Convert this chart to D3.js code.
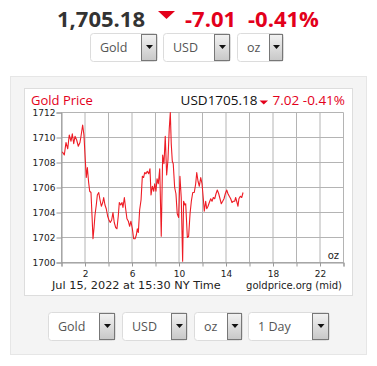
<!DOCTYPE html>
<html>
<head>
<meta charset="utf-8">
<style>
  body { margin: 0; background: #fff; }
  svg { display: block; }
</style>
</head>
<body>
<svg width="377" height="366"></svg>
<script src="https://d3js.org/d3.v7.min.js"></script>
<script>
// hours since midnight (NY time) and gold mid price, USD/oz
const hours = [0.07,0.24,0.38,0.53,0.66,0.81,0.92,1.04,1.15,1.29,1.43,1.57,1.66,1.80,1.91,2.03,2.11,2.20,2.31,2.40,
  2.51,2.60,2.68,2.77,2.85,2.96,3.05,3.17,3.28,3.39,3.51,3.59,3.70,3.81,3.93,4.04,4.15,4.27,4.38,4.49,
  4.61,4.72,4.83,4.92,5.04,5.15,5.23,5.35,5.46,5.57,5.69,5.80,5.91,6.03,6.14,6.26,6.37,6.45,6.54,6.65,
  6.77,6.88,6.99,7.08,7.19,7.30,7.42,7.53,7.62,7.73,7.85,7.93,8.04,8.13,8.24,8.36,8.49,8.61,8.72,8.83,
  8.95,9.06,9.17,9.26,9.34,9.43,9.51,9.63,9.74,9.85,9.97,10.08,10.19,10.31,10.39,10.50,10.57,10.71,10.82,10.94,
  11.05,11.17,11.30,11.42,11.51,11.62,11.73,11.85,11.96,12.07,12.15,12.27,12.36,12.47,12.58,12.70,12.81,12.92,13.04,13.15,
  13.26,13.38,13.49,13.60,13.72,13.83,13.94,14.06,14.17,14.28,14.40,14.51,14.62,14.74,14.82,14.91,15.02,15.10,15.22,15.34,15.45];
const prices = [1708.85,1708.6,1709.6,1709.1,1710.2,1709.7,1710.3,1709.5,1710.1,1709.8,1709.3,1709.6,1710.1,1711.0,1710.2,1708.1,1706.8,1707.6,1706.4,1705.7,
  1705.6,1703.7,1701.9,1702.8,1703.8,1704.6,1705.4,1705.6,1705.0,1704.5,1704.8,1705.2,1704.6,1704.3,1703.7,1703.4,1703.2,1703.4,1704.0,1703.2,
  1702.8,1702.7,1703.7,1704.8,1704.6,1704.8,1704.4,1705.2,1704.3,1703.5,1703.3,1702.9,1703.3,1702.7,1701.9,1701.9,1702.2,1702.7,1702.4,1704.2,
  1705.0,1706.9,1706.8,1707.2,1707.1,1707.3,1707.1,1707.5,1705.4,1706.1,1705.7,1706.3,1705.7,1706.7,1706.3,1707.5,1702.1,1708.6,1707.9,1710.1,
  1707.0,1708.2,1710.7,1712.0,1709.5,1708.1,1707.9,1706.0,1705.5,1703.9,1703.6,1706.9,1705.2,1700.1,1704.9,1704.6,1704.7,1702.0,1702.1,1703.9,
  1704.9,1705.6,1705.6,1706.3,1707.2,1706.5,1706.1,1706.8,1706.3,1705.1,1704.1,1704.9,1704.3,1704.5,1704.8,1705.1,1704.9,1705.2,1705.1,1705.5,
  1705.8,1705.5,1705.1,1704.7,1704.9,1705.1,1705.5,1705.8,1705.5,1705.3,1705.1,1704.8,1704.9,1704.9,1705.2,1704.9,1704.5,1705.1,1705.3,1705.2,1705.6];
const yTicks = [1700, 1702, 1704, 1706, 1708, 1710, 1712];
const xGrid = [0, 2, 4, 6, 8, 10, 12, 14, 16, 18, 20, 22, 24];
const xLabels = [2, 6, 10, 14, 18, 22];

const svg = d3.select("svg");
const red = "#e3001b";
const sans = "'Open Sans', sans-serif";
const dv = "'DejaVu Sans', Verdana, sans-serif";

// headline
const head = svg.append("g").attr("font-family", sans).attr("font-weight", 700).attr("font-size", 22);
head.append("text").attr("x", 57).attr("y", 27).attr("fill", "#333").text("1,705.18");
head.append("path").attr("d", "M158,11L175,11L166.5,19Z").attr("fill", red);
head.append("text").attr("x", 185).attr("y", 27).attr("fill", red).text("-7.01");
head.append("text").attr("x", 248).attr("y", 27).attr("fill", red).text("-0.41%");

// select boxes
function selectBox(x, y, w, label, bw) {
  const g = svg.append("g");
  g.append("rect").attr("x", x + 0.5).attr("y", y + 0.5).attr("width", w).attr("height", 28)
    .attr("rx", 3).attr("fill", "#fff").attr("stroke", "#dcdcdc");
  g.append("rect").attr("x", x + w - bw + 0.5).attr("y", y + 1.5).attr("width", bw - 1).attr("height", 26)
    .attr("fill", "url(#btn)").attr("stroke", "#777");
  const cx = x + w - bw / 2 + 0.5, cy = y + 14;
  g.append("path").attr("d", `M${cx - 3.5},${cy - 2}L${cx + 3.5},${cy - 2}L${cx},${cy + 2}Z`).attr("fill", "#111");
  g.append("text").attr("x", x + 10).attr("y", y + 19).attr("font-family", sans).attr("font-size", 12.5)
    .attr("fill", "#555").text(label);
}
const defs = svg.append("defs");
const grad = defs.append("linearGradient").attr("id", "btn").attr("x1", 0).attr("x2", 0).attr("y1", 0).attr("y2", 1);
grad.append("stop").attr("offset", 0).attr("stop-color", "#f2f2f2");
grad.append("stop").attr("offset", 1).attr("stop-color", "#c8c8c8");

selectBox(90, 33, 67, "Gold", 16);
selectBox(163, 33, 67, "USD", 16);
selectBox(237, 33, 46, "oz", 14);

// panel
svg.append("rect").attr("x", 10.5).attr("y", 76.5).attr("width", 356).attr("height", 278)
  .attr("fill", "#f4f4f4").attr("stroke", "#e6e6e6");
svg.append("rect").attr("x", 24.5).attr("y", 88.5).attr("width", 328).attr("height", 207)
  .attr("fill", "#fff").attr("stroke", "#dddddd");

selectBox(48, 312, 67, "Gold", 16);
selectBox(122, 312, 65, "USD", 16);
selectBox(194, 312, 48, "oz", 15);
selectBox(248, 312, 81, "1 Day", 17);

// chart header
svg.append("text").attr("x", 31).attr("y", 105).attr("font-family", sans).attr("font-size", 13)
  .attr("fill", red).text("Gold Price");
svg.append("text").attr("x", 257.5).attr("y", 105).attr("text-anchor", "end").attr("font-family", sans)
  .attr("font-size", 13.5).attr("fill", "#111").text("USD1705.18");
svg.append("path").attr("d", "M259.5,100.5L268,100.5L263.75,104.5Z").attr("fill", red);
svg.append("text").attr("x", 345).attr("y", 105).attr("text-anchor", "end").attr("font-family", sans)
  .attr("font-size", 13.5).attr("fill", red).text("7.02 -0.41%");

// plot
const x = d3.scaleLinear().domain([0, 24]).range([61.5, 343.5]);
const y = d3.scaleLinear().domain([1700, 1712]).range([262.5, 112.5]);

const grid = svg.append("g").attr("stroke", "#b4b4b4").attr("stroke-width", 1);
grid.selectAll(".h").data(yTicks).enter().append("line")
  .attr("x1", x(0)).attr("x2", x(24)).attr("y1", d => y(d)).attr("y2", d => y(d));
grid.selectAll(".v").data(xGrid).enter().append("line")
  .attr("x1", d => x(d)).attr("x2", d => x(d)).attr("y1", y(1712)).attr("y2", y(1700));

const yAxis = svg.append("g").attr("transform", `translate(${x(0)},0)`)
  .call(d3.axisLeft(y).tickValues(yTicks).tickSize(5).tickPadding(1).tickFormat(d3.format("d")));
yAxis.select(".domain").attr("stroke", "#999");
yAxis.selectAll(".tick line").attr("stroke", "#999");
yAxis.selectAll("text").attr("font-family", dv).attr("font-size", 9).attr("fill", "#222");

const xAxis = svg.append("g").attr("transform", `translate(0,${y(1700)})`)
  .call(d3.axisBottom(x).tickValues(xGrid).tickSize(4).tickPadding(4)
    .tickFormat(d => xLabels.includes(d) ? d : ""));
xAxis.select(".domain").attr("stroke", "#999");
xAxis.selectAll(".tick line").attr("stroke", "#999");
xAxis.selectAll("text").attr("font-family", dv).attr("font-size", 9).attr("fill", "#222");

const line = d3.line().x((d, i) => x(hours[i])).y(d => y(d));
svg.append("path").datum(prices).attr("d", line).attr("fill", "none")
  .attr("stroke", "#ee1c25").attr("stroke-width", 1.1).attr("stroke-linejoin", "round");

svg.append("text").attr("x", 339).attr("y", 258.5).attr("text-anchor", "end").attr("font-family", dv)
  .attr("font-size", 10).attr("fill", "#222").text("oz");
svg.append("text").attr("x", 52).attr("y", 288.5).attr("font-family", dv).attr("font-size", 11.3)
  .attr("fill", "#222").text("Jul 15, 2022 at 15:30 NY Time");
svg.append("text").attr("x", 342).attr("y", 288.5).attr("text-anchor", "end").attr("font-family", dv)
  .attr("font-size", 10).attr("fill", "#222").text("goldprice.org (mid)");
</script>
</body>
</html>
